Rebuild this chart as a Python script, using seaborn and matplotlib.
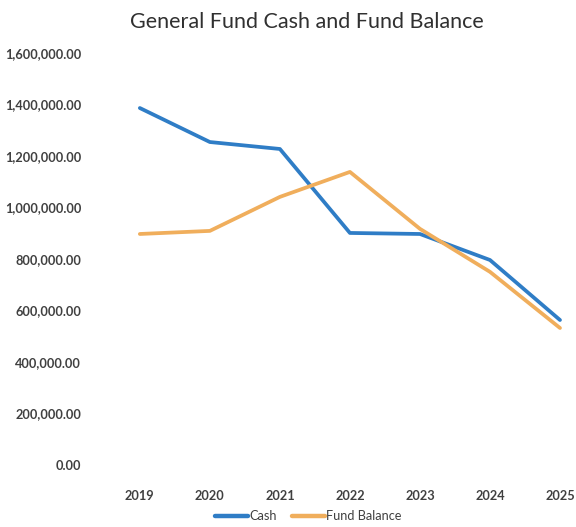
import matplotlib
matplotlib.use("Agg")
import matplotlib.pyplot as plt
import seaborn as sns
import pandas as pd
from matplotlib.ticker import FuncFormatter, MultipleLocator
from matplotlib.lines import Line2D

years = ["2019", "2020", "2021", "2022", "2023", "2024", "2025"]
cash = [1386000, 1254000, 1227000, 901000, 897000, 796000, 563000]
fund_balance = [897000, 909000, 1041000, 1138000, 917000, 750000, 532000]
series_names = ["Cash", "Fund Balance"]
title = "General Fund Cash and Fund Balance"

df = pd.DataFrame({
    "pos": list(range(len(years))) * 2,
    "value": cash + fund_balance,
    "series": [series_names[0]] * len(years) + [series_names[1]] * len(years),
})

sns.set_theme(style="white")
plt.rcParams["font.family"] = ["Lato", "DejaVu Sans"]

fig = plt.figure(figsize=(5.76, 5.27), dpi=100)
ax = fig.add_axes([0.182, 0.1176, 0.851, 0.782])

palette = {"Cash": "#2F7DC6", "Fund Balance": "#F0AE5C"}
sns.lineplot(data=df, x="pos", y="value", hue="series", palette=palette,
             linewidth=2.7, ax=ax, legend=False, sort=False)

ax.set_xlim(-0.5, len(years) - 0.5)
ax.set_ylim(0, 1600000)
ax.yaxis.set_major_locator(MultipleLocator(200000))
ax.yaxis.set_major_formatter(FuncFormatter(lambda v, p: f"{v:,.2f}"))
ax.set_xticks(range(len(years)))
ax.set_xticklabels(years)
ax.set_xlabel("")
ax.set_ylabel("")
for s in ax.spines.values():
    s.set_visible(False)
ax.tick_params(axis="y", length=0, pad=17, labelsize=9.2, labelcolor="#404040")
ax.tick_params(axis="x", length=0, pad=18, labelsize=9.2, labelcolor="#404040")
for lbl in ax.get_xticklabels() + ax.get_yticklabels():
    lbl.set_fontweight("bold")

fig.text(0.532, 0.958, title, ha="center", va="center", fontsize=15.5, color="#303030")

handles = [Line2D([], [], color=palette[n], linewidth=3.2) for n in series_names]
leg = fig.legend(handles, series_names, loc="center", bbox_to_anchor=(0.535, 0.02),
                 ncol=2, frameon=False, fontsize=9.2, handlelength=2.6,
                 handletextpad=0.1, columnspacing=1.2)
for t in leg.get_texts():
    t.set_color("#404040")

fig.savefig("out.png", dpi=100)
